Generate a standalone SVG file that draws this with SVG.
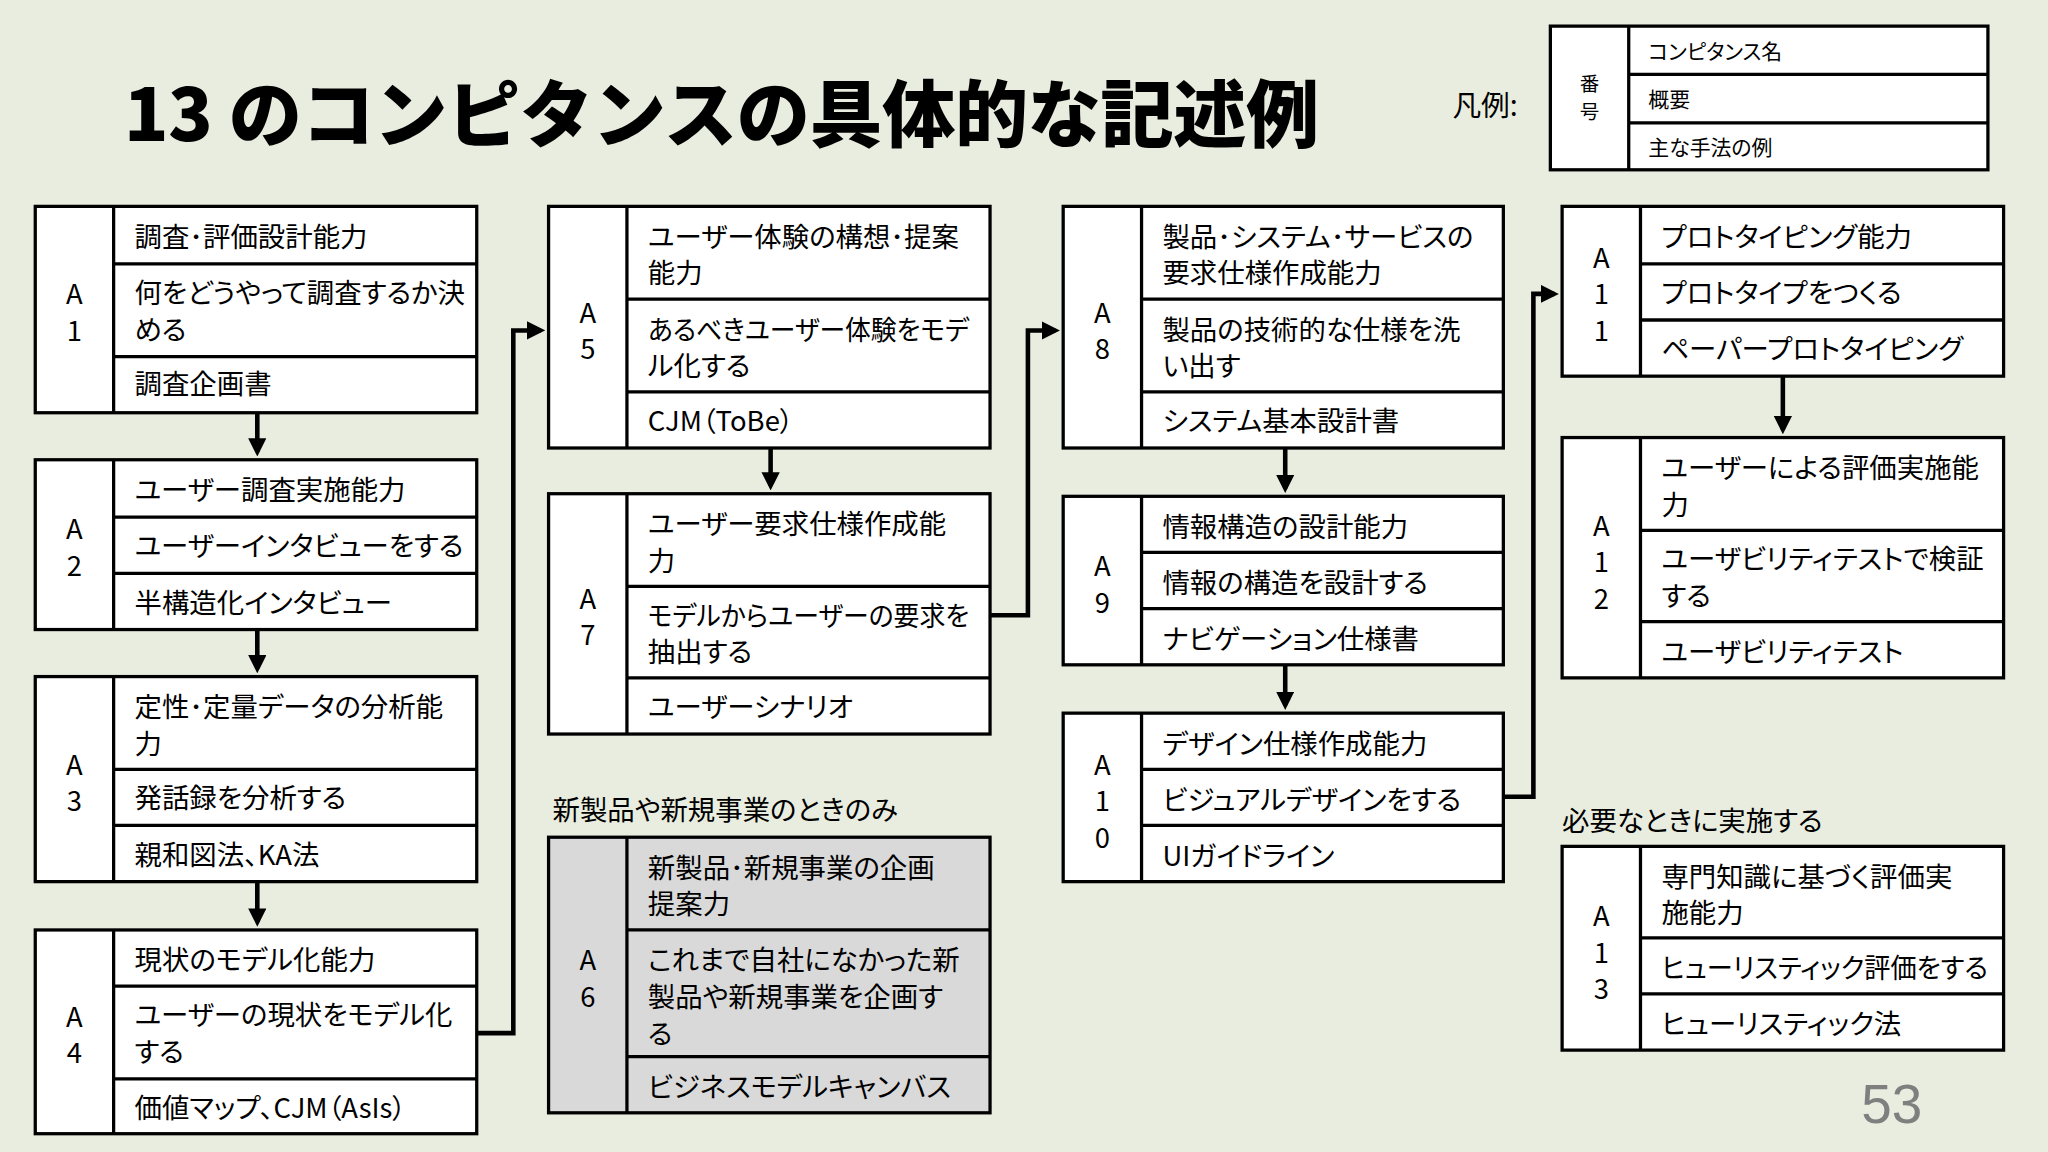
<svg xmlns="http://www.w3.org/2000/svg" width="2048" height="1152" viewBox="0 0 2048 1152">
<style>
.b{fill:#fff;stroke:#000;stroke-width:2.5}
.g{fill:#d9d9d9;stroke:#000;stroke-width:2.5}
.l{stroke:#000;stroke-width:2.5}
text{font-family:"Noto Sans CJK JP","Noto Sans",sans-serif;fill:#000;font-feature-settings:"palt" 1}
.t{font-size:21px}
.n{font-size:21px;text-anchor:middle}
.s{font-size:15px;text-anchor:middle}
.c{fill:none;stroke:#000;stroke-width:3.5}
</style>
<defs><marker id="ah" markerWidth="4" markerHeight="4" refX="3" refY="2" orient="auto"><path d="M0,0L4,2L0,4z" fill="#000"/></marker></defs>
<rect width="2048" height="1152" fill="#e9eddf"/>
<g transform="scale(1.30612)">
<text x="95" y="108" font-size="56" font-weight="900" style="font-feature-settings:normal" textLength="915" lengthAdjust="spacing">13 のコンピタンスの具体的な記述例</text>
<text x="1425" y="860" font-size="42" style="fill:#7f7f7f;font-family:'Liberation Sans',sans-serif">53</text>
<g id="legend">
<text x="1112" y="89" font-size="22">凡例:</text>
<rect class="b" x="1187" y="20" width="335" height="110"/>
<line class="l" x1="1247" y1="20" x2="1247" y2="130"/><line class="l" x1="1247" y1="57" x2="1522" y2="57"/><line class="l" x1="1247" y1="94" x2="1522" y2="94"/>
<text class="s" x="1217" y="70">番</text><text class="s" x="1217" y="91">号</text>
<text x="1262" y="45" font-size="16">コンピタンス名</text><text x="1262" y="82" font-size="16">概要</text><text x="1262" y="119" font-size="16">主な手法の例</text>
</g>
<g id="A1"><rect class="b" x="27" y="158" width="338" height="158"/><line class="l" x1="87" y1="158" x2="87" y2="316"/><line class="l" x1="87" y1="202" x2="365" y2="202"/><line class="l" x1="87" y1="273" x2="365" y2="273"/>
<text class="n" x="57" y="233">A</text><text class="n" x="57" y="261">1</text>
<text class="t" x="103" y="189">調査･評価設計能力</text><text class="t" x="103" y="232">何をどうやって調査するか決</text><text class="t" x="103" y="260">める</text><text class="t" x="103" y="302">調査企画書</text></g>
<g id="A2"><rect class="b" x="27" y="352" width="338" height="130"/><line class="l" x1="87" y1="352" x2="87" y2="482"/><line class="l" x1="87" y1="396" x2="365" y2="396"/><line class="l" x1="87" y1="439" x2="365" y2="439"/>
<text class="n" x="57" y="413">A</text><text class="n" x="57" y="441">2</text>
<text class="t" x="103" y="383">ユーザー調査実施能力</text><text class="t" x="103" y="426">ユーザーインタビューをする</text><text class="t" x="103" y="469">半構造化インタビュー</text></g>
<g id="A3"><rect class="b" x="27" y="518" width="338" height="157"/><line class="l" x1="87" y1="518" x2="87" y2="675"/><line class="l" x1="87" y1="589" x2="365" y2="589"/><line class="l" x1="87" y1="632" x2="365" y2="632"/>
<text class="n" x="57" y="593">A</text><text class="n" x="57" y="621">3</text>
<text class="t" x="103" y="549">定性･定量データの分析能</text><text class="t" x="103" y="577">力</text><text class="t" x="103" y="619">発話録を分析する</text><text class="t" x="103" y="662">親和図法、KA法</text></g>
<g id="A4"><rect class="b" x="27" y="712" width="338" height="156"/><line class="l" x1="87" y1="712" x2="87" y2="868"/><line class="l" x1="87" y1="755" x2="365" y2="755"/><line class="l" x1="87" y1="826" x2="365" y2="826"/>
<text class="n" x="57" y="786">A</text><text class="n" x="57" y="814">4</text>
<text class="t" x="103" y="743">現状のモデル化能力</text><text class="t" x="103" y="785">ユーザーの現状をモデル化</text><text class="t" x="103" y="813">する</text><text class="t" x="103" y="856">価値マップ、CJM（AsIs）</text></g>
<g id="A5"><rect class="b" x="420" y="158" width="338" height="185"/><line class="l" x1="480" y1="158" x2="480" y2="343"/><line class="l" x1="480" y1="229" x2="758" y2="229"/><line class="l" x1="480" y1="300" x2="758" y2="300"/>
<text class="n" x="450" y="247">A</text><text class="n" x="450" y="275">5</text>
<text class="t" x="496" y="189">ユーザー体験の構想･提案</text><text class="t" x="496" y="217">能力</text><text class="t" x="496" y="260" textLength="246" lengthAdjust="spacingAndGlyphs">あるべきユーザー体験をモデ</text><text class="t" x="496" y="288">ル化する</text><text class="t" x="496" y="330">CJM（ToBe）</text></g>
<g id="A7"><rect class="b" x="420" y="378" width="338" height="184"/><line class="l" x1="480" y1="378" x2="480" y2="562"/><line class="l" x1="480" y1="449" x2="758" y2="449"/><line class="l" x1="480" y1="519" x2="758" y2="519"/>
<text class="n" x="450" y="466">A</text><text class="n" x="450" y="494">7</text>
<text class="t" x="496" y="409">ユーザー要求仕様作成能</text><text class="t" x="496" y="437">力</text><text class="t" x="496" y="479" textLength="246" lengthAdjust="spacingAndGlyphs">モデルからユーザーの要求を</text><text class="t" x="496" y="507">抽出する</text><text class="t" x="496" y="549">ユーザーシナリオ</text></g>
<text class="t" x="423" y="628">新製品や新規事業のときのみ</text>
<g id="A6"><rect class="g" x="420" y="641" width="338" height="211"/><line class="l" x1="480" y1="641" x2="480" y2="852"/><line class="l" x1="480" y1="712" x2="758" y2="712"/><line class="l" x1="480" y1="809" x2="758" y2="809"/>
<text class="n" x="450" y="743">A</text><text class="n" x="450" y="771">6</text>
<text class="t" x="496" y="672">新製品･新規事業の企画</text><text class="t" x="496" y="700">提案力</text><text class="t" x="496" y="743">これまで自社になかった新</text><text class="t" x="496" y="771">製品や新規事業を企画す</text><text class="t" x="496" y="799">る</text><text class="t" x="496" y="840">ビジネスモデルキャンバス</text></g>
<g id="A8"><rect class="b" x="814" y="158" width="337" height="185"/><line class="l" x1="874" y1="158" x2="874" y2="343"/><line class="l" x1="874" y1="229" x2="1151" y2="229"/><line class="l" x1="874" y1="300" x2="1151" y2="300"/>
<text class="n" x="844" y="247">A</text><text class="n" x="844" y="275">8</text>
<text class="t" x="890" y="189">製品･システム･サービスの</text><text class="t" x="890" y="217">要求仕様作成能力</text><text class="t" x="890" y="260">製品の技術的な仕様を洗</text><text class="t" x="890" y="288">い出す</text><text class="t" x="890" y="330">システム基本設計書</text></g>
<g id="A9"><rect class="b" x="814" y="380" width="337" height="129"/><line class="l" x1="874" y1="380" x2="874" y2="509"/><line class="l" x1="874" y1="423" x2="1151" y2="423"/><line class="l" x1="874" y1="466" x2="1151" y2="466"/>
<text class="n" x="844" y="441">A</text><text class="n" x="844" y="469">9</text>
<text class="t" x="890" y="411">情報構造の設計能力</text><text class="t" x="890" y="454">情報の構造を設計する</text><text class="t" x="890" y="497">ナビゲーション仕様書</text></g>
<g id="A10"><rect class="b" x="814" y="546" width="337" height="129"/><line class="l" x1="874" y1="546" x2="874" y2="675"/><line class="l" x1="874" y1="589" x2="1151" y2="589"/><line class="l" x1="874" y1="632" x2="1151" y2="632"/>
<text class="n" x="844" y="593">A</text><text class="n" x="844" y="621">1</text><text class="n" x="844" y="649">0</text>
<text class="t" x="890" y="577">デザイン仕様作成能力</text><text class="t" x="890" y="620">ビジュアルデザインをする</text><text class="t" x="890" y="663">UIガイドライン</text></g>
<g id="A11"><rect class="b" x="1196" y="158" width="338" height="130"/><line class="l" x1="1256" y1="158" x2="1256" y2="288"/><line class="l" x1="1256" y1="202" x2="1534" y2="202"/><line class="l" x1="1256" y1="245" x2="1534" y2="245"/>
<text class="n" x="1226" y="205">A</text><text class="n" x="1226" y="233">1</text><text class="n" x="1226" y="261">1</text>
<text class="t" x="1272" y="189">プロトタイピング能力</text><text class="t" x="1272" y="232">プロトタイプをつくる</text><text class="t" x="1272" y="275">ペーパープロトタイピング</text></g>
<g id="A12"><rect class="b" x="1196" y="335" width="338" height="184"/><line class="l" x1="1256" y1="335" x2="1256" y2="519"/><line class="l" x1="1256" y1="406" x2="1534" y2="406"/><line class="l" x1="1256" y1="476" x2="1534" y2="476"/>
<text class="n" x="1226" y="410">A</text><text class="n" x="1226" y="438">1</text><text class="n" x="1226" y="466">2</text>
<text class="t" x="1272" y="366">ユーザーによる評価実施能</text><text class="t" x="1272" y="394">力</text><text class="t" x="1272" y="436">ユーザビリティテストで検証</text><text class="t" x="1272" y="464">する</text><text class="t" x="1272" y="507">ユーザビリティテスト</text></g>
<text class="t" x="1196" y="636">必要なときに実施する</text>
<g id="A13"><rect class="b" x="1196" y="648" width="338" height="156"/><line class="l" x1="1256" y1="648" x2="1256" y2="804"/><line class="l" x1="1256" y1="718" x2="1534" y2="718"/><line class="l" x1="1256" y1="761" x2="1534" y2="761"/>
<text class="n" x="1226" y="709">A</text><text class="n" x="1226" y="737">1</text><text class="n" x="1226" y="765">3</text>
<text class="t" x="1272" y="679">専門知識に基づく評価実</text><text class="t" x="1272" y="707">施能力</text><text class="t" x="1272" y="749" textLength="250" lengthAdjust="spacingAndGlyphs">ヒューリスティック評価をする</text><text class="t" x="1272" y="792">ヒューリスティック法</text></g>
<g id="connectors">
<path class="c" d="M197,316V346" marker-end="url(#ah)"/>
<path class="c" d="M197,482V512" marker-end="url(#ah)"/>
<path class="c" d="M197,675V706" marker-end="url(#ah)"/>
<path class="c" d="M365,791H393V253H414" marker-end="url(#ah)"/>
<path class="c" d="M590,343V372" marker-end="url(#ah)"/>
<path class="c" d="M758,471H787V253H808" marker-end="url(#ah)"/>
<path class="c" d="M984,343V374" marker-end="url(#ah)"/>
<path class="c" d="M984,509V540" marker-end="url(#ah)"/>
<path class="c" d="M1151,610H1174V225H1190" marker-end="url(#ah)"/>
<path class="c" d="M1365,288V329" marker-end="url(#ah)"/>
</g>
</g>
</svg>
